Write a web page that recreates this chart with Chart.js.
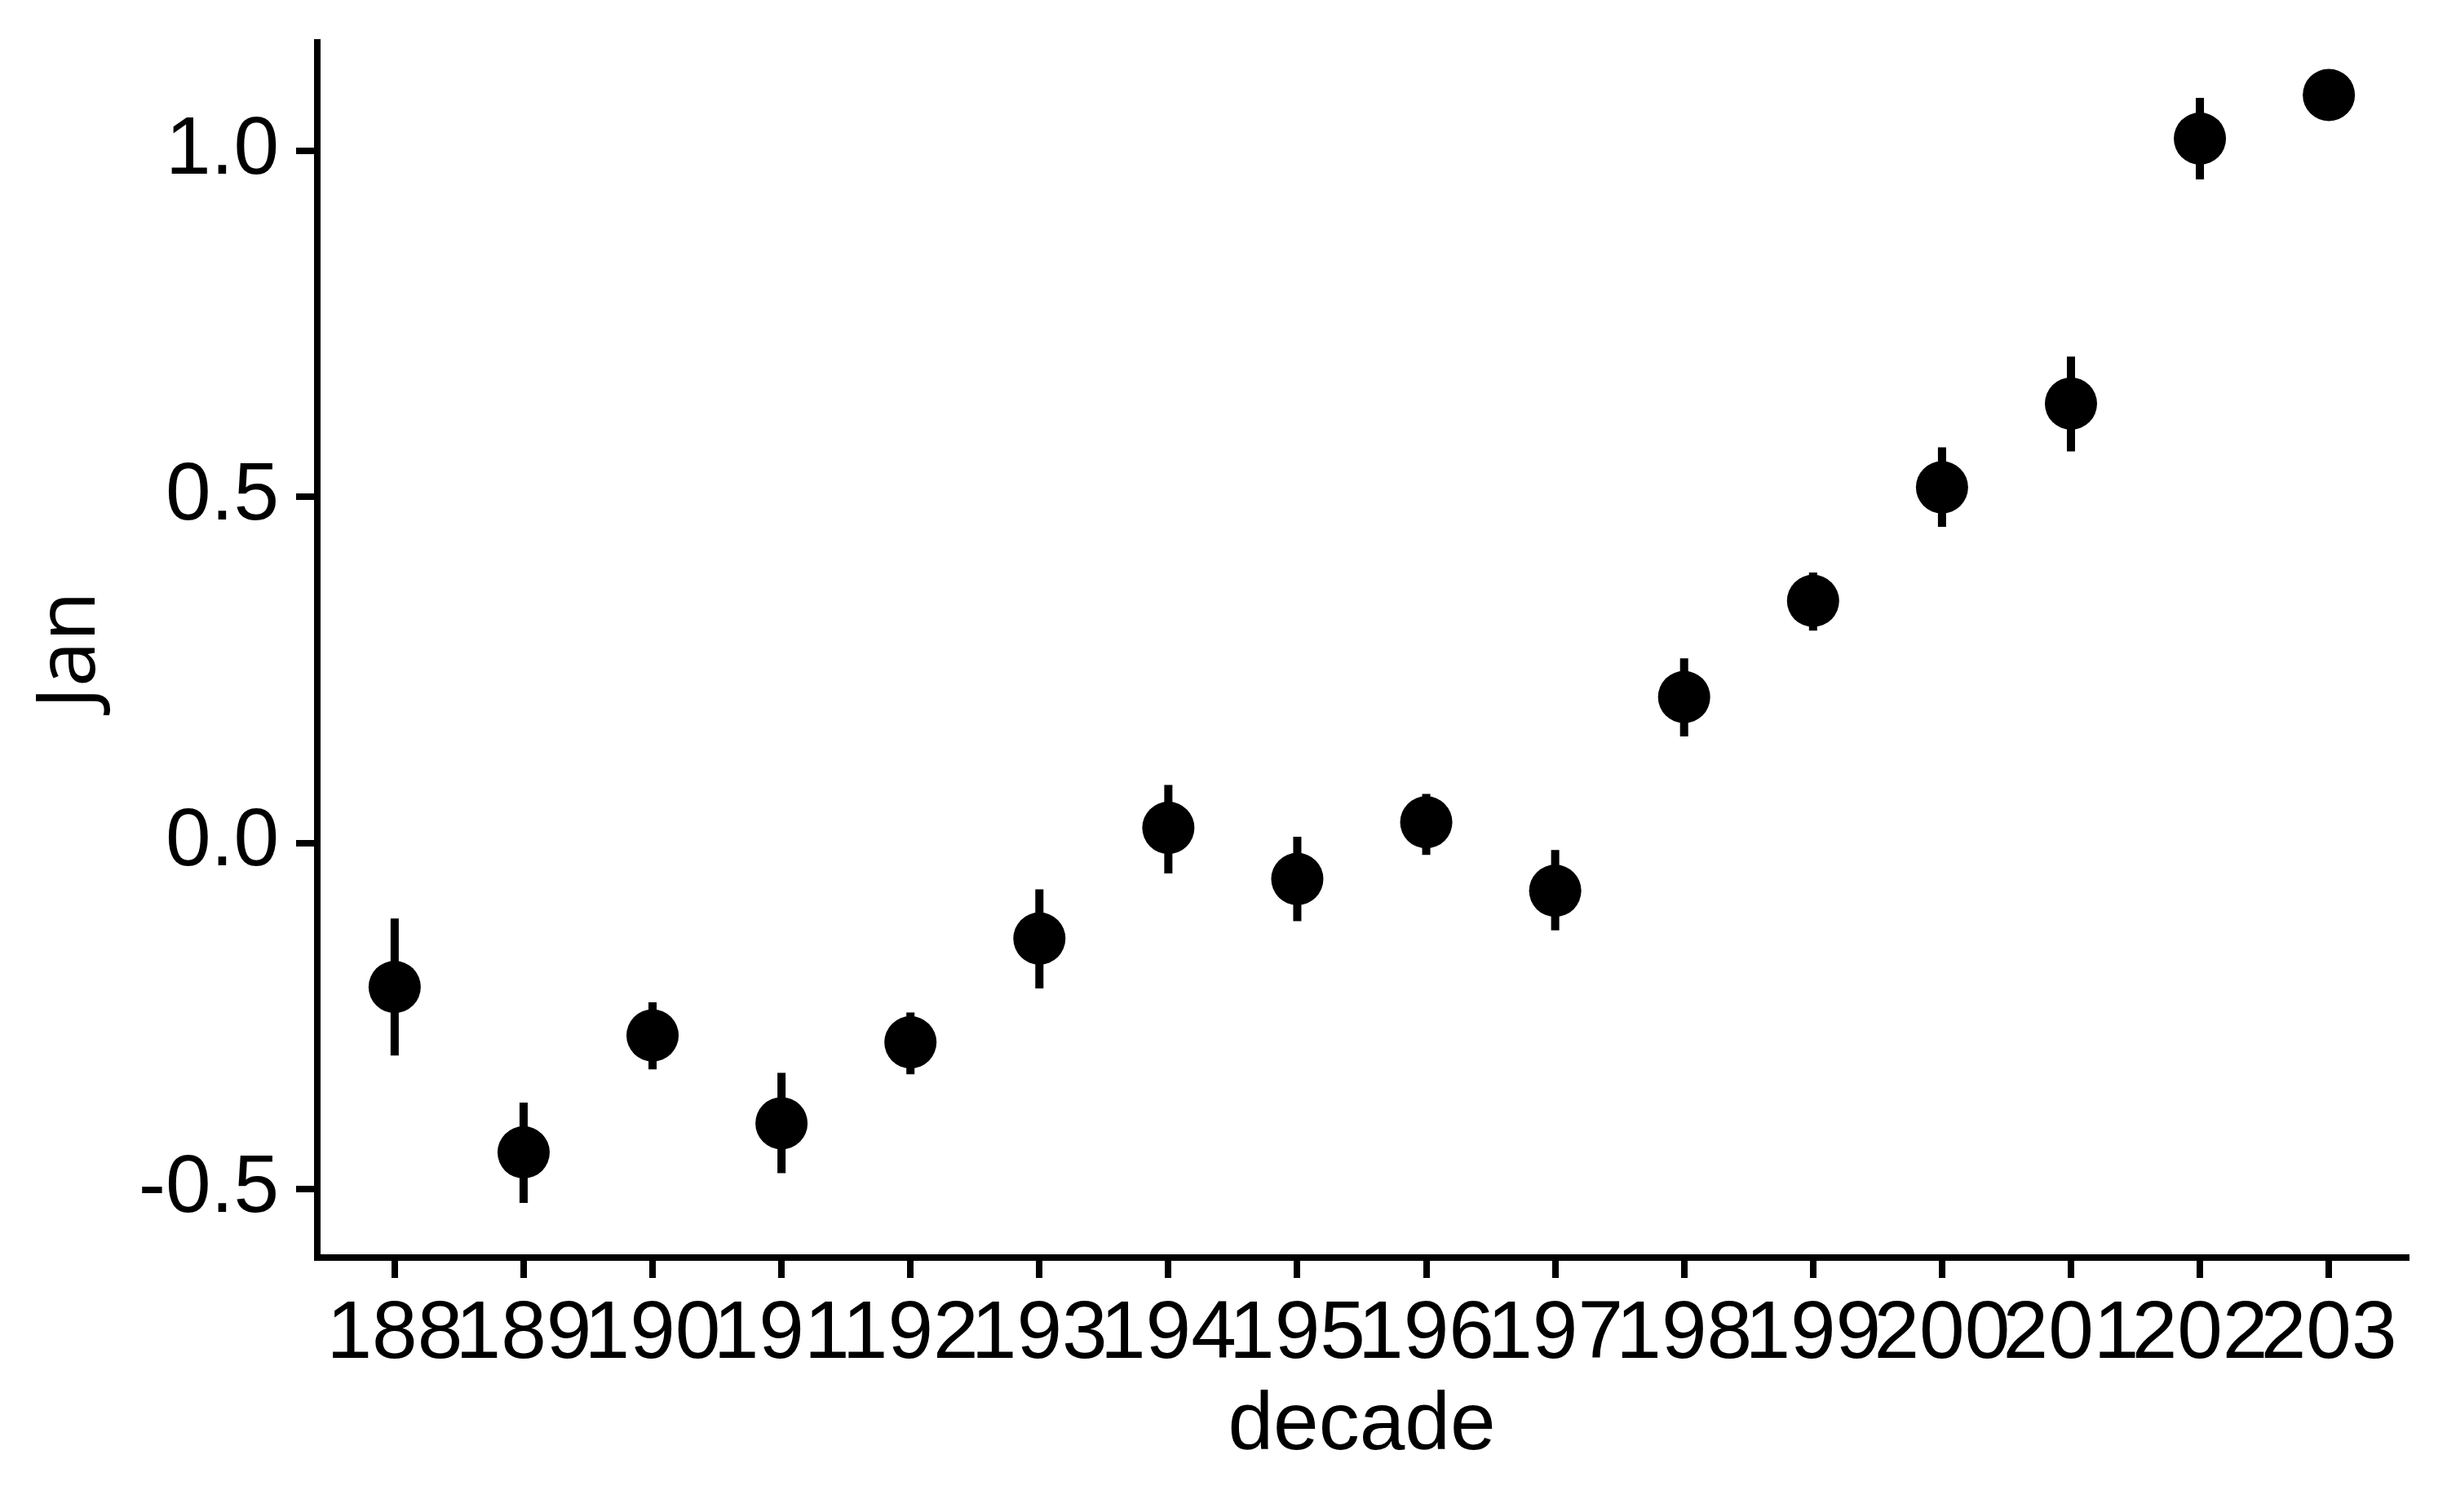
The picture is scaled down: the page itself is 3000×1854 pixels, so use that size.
<!DOCTYPE html>
<html>
<head>
<meta charset="utf-8">
<script src="https://cdn.jsdelivr.net/npm/chart.js@4/dist/chart.umd.min.js"></script>
<style>
  html, body { margin: 0; padding: 0; background: #ffffff; }
  #wrap { width: 3000px; height: 1854px; }
</style>
</head>
<body>
<div id="wrap"><canvas id="myChart" width="3000" height="1854"></canvas></div>
<script>
// decade labels and January anomaly (mean, lower, upper) per decade
var decades = ['188', '189', '190', '191', '192', '193', '194', '195',
               '196', '197', '198', '199', '200', '201', '202', '203'];
var janMean = [-0.208, -0.447, -0.278, -0.405, -0.288, -0.138, 0.022, -0.052,
               0.030, -0.069, 0.211, 0.350, 0.514, 0.635, 1.018, 1.081];
var janLow  = [-0.307, -0.520, -0.327, -0.477, -0.334, -0.210, -0.044, -0.113,
               -0.017, -0.126, 0.154, 0.307, 0.457, 0.566, 0.959, null];
var janHigh = [-0.109, -0.375, -0.230, -0.332, -0.245, -0.067, 0.084, 0.009,
               0.071, -0.010, 0.267, 0.391, 0.572, 0.703, 1.077, null];
var yTicks = [-0.5, 0.0, 0.5, 1.0];

var pointData = janMean.map(function(v, i){ return {x: i, y: v}; });
var barData = [];
janLow.forEach(function(lo, i){
  if (lo === null) return;
  barData.push({x: i, y: lo});
  barData.push({x: i, y: janHigh[i]});
  barData.push({x: i, y: null});
});

var tickFont = {family: 'Liberation Sans, Arial, sans-serif', size: 100};

var ctx = document.getElementById('myChart').getContext('2d');
var myChart = new Chart(ctx, {
  type: 'line',
  data: {
    datasets: [{
      label: 'range',
      data: barData,
      borderColor: '#000000',
      borderWidth: 10,
      borderCapStyle: 'butt',
      pointRadius: 0,
      spanGaps: false,
      order: 2
    }, {
      label: 'Jan',
      data: pointData,
      showLine: false,
      pointRadius: 32,
      pointBackgroundColor: '#000000',
      pointBorderWidth: 0,
      order: 1
    }]
  },
  options: {
    responsive: false,
    animation: false,
    devicePixelRatio: 1,
    layout: { padding: {top: 52, right: 50, left: 0, bottom: 0} },
    plugins: { legend: {display: false}, tooltip: {enabled: false} },
    scales: {
      x: {
        type: 'linear',
        min: -0.6,
        max: 15.6,
        afterBuildTicks: function(scale){
          scale.ticks = decades.map(function(d, i){ return {value: i}; });
        },
        afterFit: function(scale){
          scale.height = 312;
          scale.paddingLeft = 0;
          scale.paddingRight = 0;
        },
        ticks: {
          autoSkip: false,
          maxRotation: 0,
          color: '#000000',
          font: tickFont,
          padding: 10,
          callback: function(v){ return decades[v]; }
        },
        grid: { drawOnChartArea: false, drawTicks: true, tickLength: 25, lineWidth: 8, color: '#000000' },
        border: { display: true, width: 8, color: '#000000' },
        title: { display: true, text: 'decade', color: '#000000', font: tickFont, padding: {top: 0, bottom: 45} }
      },
      y: {
        min: -0.599,
        max: 1.157,
        afterBuildTicks: function(scale){
          scale.ticks = yTicks.map(function(v){ return {value: v}; });
        },
        afterFit: function(scale){
          scale.width = 389;
          scale.paddingTop = 0;
          scale.paddingBottom = 0;
        },
        ticks: {
          color: '#000000',
          font: tickFont,
          padding: 21,
          callback: function(v){ return v.toFixed(1); }
        },
        grid: { drawOnChartArea: false, drawTicks: true, tickLength: 26, lineWidth: 8, color: '#000000' },
        border: { display: true, width: 8, color: '#000000' },
        title: { display: true, text: 'Jan', color: '#000000', font: {family: 'Open Sans, sans-serif', size: 100}, padding: {top: 28, bottom: 0} }
      }
    }
  }
});
</script>
</body>
</html>
